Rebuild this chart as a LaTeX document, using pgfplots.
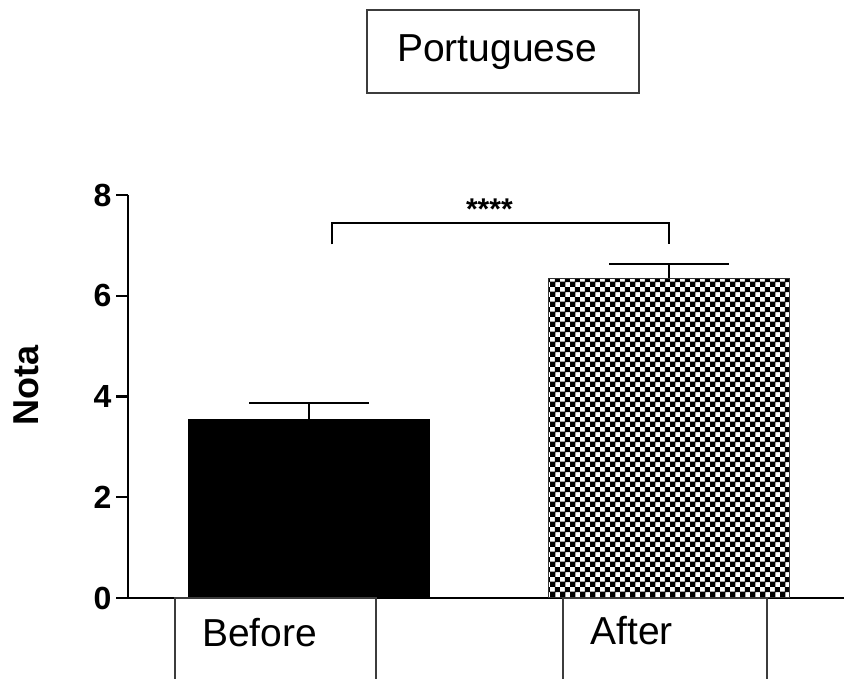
\documentclass[border=0pt]{standalone}
\usepackage{fontspec}
\setmainfont{Liberation Sans}
\usepackage{pgfplots}
\pgfplotsset{compat=1.18}
\usetikzlibrary{patterns}
\pgfdeclarepatternformonly{bigcheck}{\pgfpointorigin}{\pgfqpoint{10.4pt}{10.4pt}}{\pgfqpoint{10.4pt}{10.4pt}}{%
  \pgfpathrectangle{\pgfpointorigin}{\pgfqpoint{5.6pt}{5.6pt}}%
  \pgfpathrectangle{\pgfqpoint{5.2pt}{5.2pt}}{\pgfqpoint{5.6pt}{5.6pt}}%
  \pgfusepath{fill}}
\definecolor{boxgray}{RGB}{60,60,60}
\begin{document}
\begin{tikzpicture}[x=1pt,y=1pt]
\useasboundingbox (0,0) rectangle (844,679);
\begin{axis}[
  at={(128pt,81pt)}, anchor=south west,
  scale only axis, width=716pt, height=403pt,
  xmin=-0.504, xmax=1.485, ymin=0, ymax=8,
  axis x line=bottom, axis y line=left,
  axis line style={-, line width=2.8pt, black},
  xtick=\empty,
  ytick={0,2,4,6,8},
  tick align=outside, major tick length=12pt,
  ytick style={line width=2.2pt, black},
  /pgf/number format/assume math mode=true,
  yticklabel style={font=\bfseries\fontsize{32}{32}\selectfont, xshift=-1pt},
  ylabel={Nota},
  every axis y label/.style={at={(axis description cs:-0.1425,0.528)}, rotate=90, anchor=center, font=\bfseries\fontsize{36}{36}\selectfont},
  clip=false,
]
% Before
\addplot[ybar, bar width=241pt, bar shift=0pt, fill=black, draw=black, line width=1pt,
  error bars/.cd, y dir=plus, y explicit,
  error bar style={line width=2pt, black},
  error mark options={rotate=90, mark size=60pt, line width=2pt, black}]
  coordinates {(0,3.55) +- (0,0.32)};
% After
\addplot[ybar, bar width=241pt, bar shift=0pt, pattern=bigcheck, pattern color=black, draw=black!80, line width=1pt,
  error bars/.cd, y dir=plus, y explicit,
  error bar style={line width=2pt, black},
  error mark options={rotate=90, mark size=60pt, line width=2pt, black}]
  coordinates {(1,6.35) +- (0,0.28)};
% significance bracket
\draw[line width=2pt, black] (axis cs:0.0625,7.02) -- (axis cs:0.0625,7.44) -- (axis cs:1,7.44) -- (axis cs:1,7.02);
\node[font=\bfseries\fontsize{30}{30}\selectfont, inner sep=0pt] at (axis cs:0.5,7.72) {****};
\end{axis}
% title box
\draw[boxgray, line width=1.5pt, fill=white] (367,586) rectangle (639,669);
\node[anchor=base, inner sep=0pt, font=\fontsize{39}{39}\selectfont] at (497,617) {Portuguese};
% category boxes
\draw[boxgray, line width=1.5pt, fill=white] (175,-5) rectangle (376,81);
\node[anchor=base, inner sep=0pt, font=\fontsize{39}{39}\selectfont] at (259.5,32) {Before};
\draw[boxgray, line width=1.5pt, fill=white] (563,-5) rectangle (767,81);
\node[anchor=base, inner sep=0pt, font=\fontsize{39}{39}\selectfont] at (631.5,34) {After};
\end{tikzpicture}
\end{document}
